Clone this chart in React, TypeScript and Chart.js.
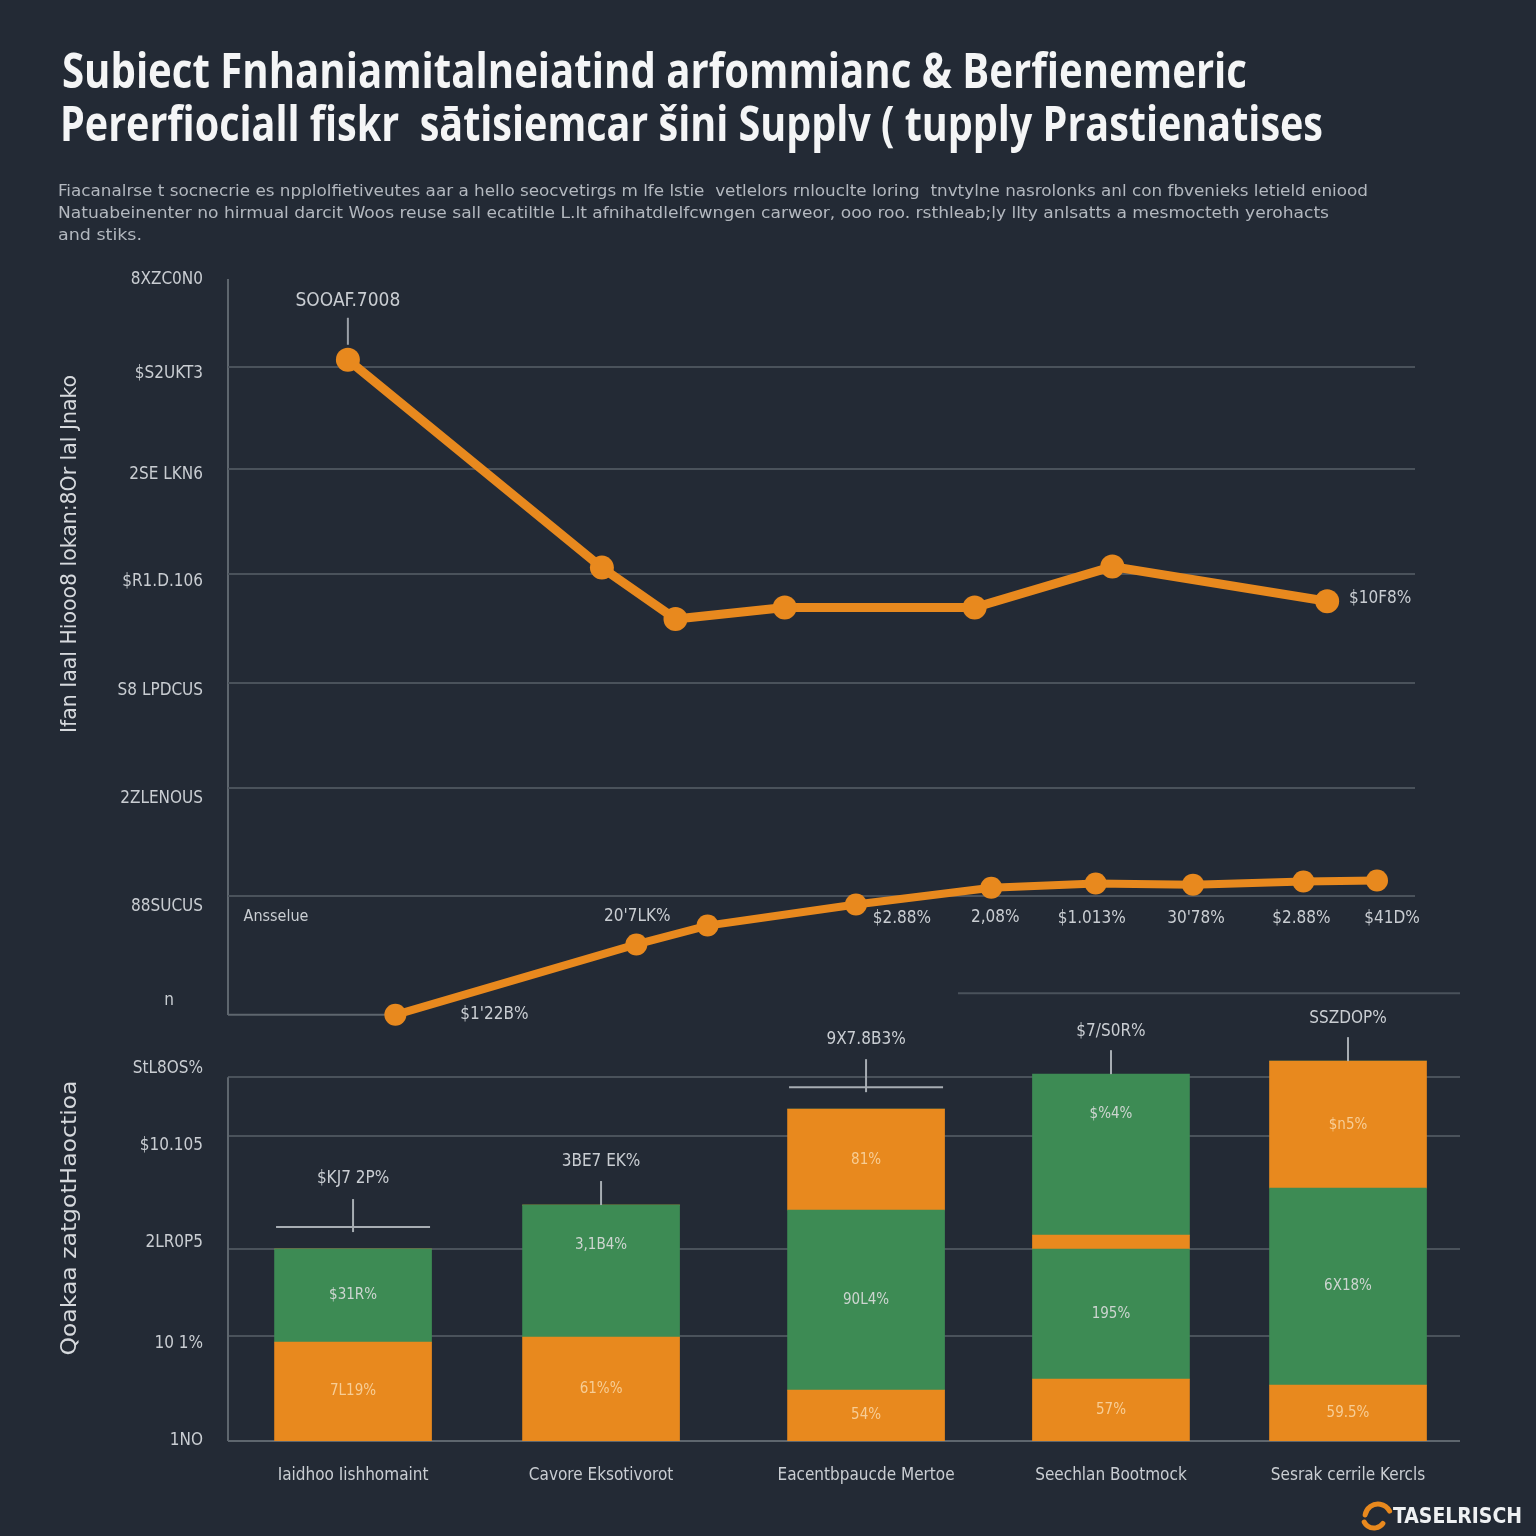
import React, { useEffect, useRef } from "react";
import { Chart, registerables } from "chart.js";

Chart.register(...registerables);

const BG = "#232a35";
const ORANGE = "#e8891e";
const GREEN = "#3d8b54";
const GRID = "#4a525b";
const AXIS = "#5e666e";
const TEXT = "#c9cdd2";
const FONT = "'DejaVu Sans Condensed','Liberation Sans Narrow','DejaVu Sans',sans-serif";
const TITLE_FONT = "'Open Sans','Noto Sans',sans-serif";
const BOT_TOP = 966;

// ---------- text ----------
const titleLines = [
  "Subiect Fnhaniamitalneiatind arfommianc & Berfienemeric",
  "Pererfiociall fiskr  sātisiemcar šini Supplv ( tupply Prastienatises",
];
const subtitleLines = [
  "Fiacanalrse t socnecrie es npplolfietiveutes aar a hello seocvetirgs m lfe lstie  vetlelors rnlouclte loring  tnvtylne nasrolonks anl con fbvenieks letield eniood",
  "Natuabeinenter no hirmual darcit Woos reuse sall ecatiltle L.lt afnihatdlelfcwngen carweor, ooo roo. rsthleab;ly llty anlsatts a mesmocteth yerohacts",
  "and stiks.",
];
const topAxisTitle = "Ifan Iaal Hiooo8 lokan:8Or lal Jnako";
const bottomAxisTitle = "Qoakaa zatgotHaoctioa";
const logoText = "TASELRISCH";

// ---------- top line chart data ----------
const lineYTickValues = [0.133, 1.035, 2.061, 3.086, 4.131, 5.147, 6.106, 7.0];
const lineYTickLabels = ["n      ", "88SUCUS", "2ZLENOUS", "S8 LPDCUS", "$R1.D.106", "2SE LKN6", "$S2UKT3", "8XZC0N0"];
const lineGridValues = [1.13, 2.165, 3.162, 4.198, 5.195, 6.173];
const upperX = [10.1, 31.5, 37.7, 46.9, 62.9, 74.5, 92.6];
const upperY = [6.24, 4.26, 3.77, 3.88, 3.88, 4.27, 3.94];
const lowerX = [14.1, 34.4, 40.4, 52.9, 64.3, 73.1, 81.3, 90.6, 96.8];
const lowerY = [0, 0.67, 0.85, 1.05, 1.21, 1.25, 1.24, 1.27, 1.28];
const upperLabels = ["SOOAF.7008", "", "", "", "", "", "$10F8%"];
const lowerLabels = ["$1'22B%", "20'7LK%", "", "$2.88%", "2,08%", "$1.013%", "30'78%", "$2.88%", "$41D%"];
const baselineLabel = "Ansselue";

// layout of the value labels around points (dx, dy in px)
const upperLabelOffsets = [[0, -59], [0, 0], [0, 0], [0, 0], [0, 0], [0, 0], [53, -3]];
const lowerLabelOffsets = [[99, 0], [1, -28], [0, 0], [46, 14], [4, 30], [-4, 35], [3, 34], [-2, 37], [15, 38]];

// ---------- bottom stacked bar data ----------
const categories = [
  "Iaidhoo Iishhomaint",
  "Cavore Eksotivorot",
  "Eacentbpaucde Mertoe",
  "Seechlan Bootmock",
  "Sesrak cerrile Kercls",
];
const barX = [10.15, 30.28, 51.79, 71.67, 90.91];
const orangeLow = [1.088, 1.143, 0.56, 0.681, 0.615];
const greenMid = [1.022, 1.451, 1.978, 1.429, 2.165];
const orangeUp = [0, 0, 1.11, 0.154, 1.396];
const greenUp = [0, 0, 0, 1.769, 0];
const orangeLowLabels = ["7L19%", "61%%", "54%", "57%", "59.5%"];
const greenMidLabels = ["$31R%", "3,1B4%", "90L4%", "195%", "6X18%"];
const orangeUpLabels = ["", "", "81%", "", "$n5%"];
const greenUpLabels = ["", "", "", "$%4%", ""];
const totalLabels = ["$KJ7 2P%", "3BE7 EK%", "9X7.8B3%", "$7/S0R%", "SSZDOP%"];
const totalHasCap = [true, false, true, false, false];
const barYTickValues = [0, 1.066, 2.176, 3.253, 4.099];
const barYTickLabels = ["1NO", "10 1%", "2LR0P5", "$10.105", "StL8OS%"];
const barGridValues = [1.154, 2.11, 3.352, 4.0];
const barTopLineValue = 4.923;
const barTopLineStart = 59.25;

function fitText(ctx: CanvasRenderingContext2D, text: string, x: number, y: number, width: number, font: string, color: string, align: "left" | "center" = "left") {
  ctx.save();
  ctx.font = font;
  ctx.fillStyle = color;
  ctx.textBaseline = "middle";
  const w = ctx.measureText(text).width || 1;
  const s = width / w;
  ctx.translate(x, y);
  ctx.scale(s, 1);
  ctx.textAlign = align;
  ctx.fillText(text, 0, 0);
  ctx.restore();
}

function label(ctx: CanvasRenderingContext2D, text: string, x: number, y: number, size: number, color: string, align: CanvasTextAlign = "center") {
  ctx.save();
  ctx.font = `${size}px ${FONT}`;
  ctx.fillStyle = color;
  ctx.textAlign = align;
  ctx.textBaseline = "middle";
  ctx.fillText(text, x, y);
  ctx.restore();
}

function hline(ctx: CanvasRenderingContext2D, x1: number, x2: number, y: number, color: string, w = 2) {
  ctx.save();
  ctx.strokeStyle = color;
  ctx.lineWidth = w;
  ctx.beginPath();
  ctx.moveTo(x1, y);
  ctx.lineTo(x2, y);
  ctx.stroke();
  ctx.restore();
}

function vline(ctx: CanvasRenderingContext2D, x: number, y1: number, y2: number, color: string, w = 2) {
  ctx.save();
  ctx.strokeStyle = color;
  ctx.lineWidth = w;
  ctx.beginPath();
  ctx.moveTo(x, y1);
  ctx.lineTo(x, y2);
  ctx.stroke();
  ctx.restore();
}

const topPlugin = {
  id: "topDecor",
  beforeDatasetsDraw(chart: any) {
    const { ctx, chartArea, scales } = chart;
    const xs = scales.x;
    const ys = scales.y;
    // title
    fitText(ctx, titleLines[0], 62, 74, 1185, `700 48px ${TITLE_FONT}`, "#f4f5f6");
    fitText(ctx, titleLines[1], 60, 127, 1263, `700 48px ${TITLE_FONT}`, "#f4f5f6");
    // subtitle
    fitText(ctx, subtitleLines[0], 58, 192, 1310, `16px ${FONT}`, "#b3b8bf");
    fitText(ctx, subtitleLines[1], 58, 214, 1271, `16px ${FONT}`, "#b3b8bf");
    fitText(ctx, subtitleLines[2], 58, 236, 84, `16px ${FONT}`, "#b3b8bf");
    // y axis title
    ctx.save();
    ctx.translate(70, 554);
    ctx.rotate(-Math.PI / 2);
    fitText(ctx, topAxisTitle, 0, 0, 358, `22px ${FONT}`, "#d6d9dd", "center");
    ctx.restore();
    // grid
    for (const v of lineGridValues) {
      hline(ctx, chartArea.left, chartArea.right, Math.round(ys.getPixelForValue(v)), GRID, 2);
    }
    hline(ctx, chartArea.left, xs.getPixelForValue(lowerX[0]), ys.getPixelForValue(0), AXIS, 2);
    // baseline label
    label(ctx, baselineLabel, chartArea.left + 48, ys.getPixelForValue(lineGridValues[0]) + 21, 16, TEXT);
    // leader for first upper point
    const px = xs.getPixelForValue(upperX[0]);
    const py = ys.getPixelForValue(upperY[0]);
    vline(ctx, px, py - 42, py - 15, "#9aa0a7", 2);
  },
  afterDatasetsDraw(chart: any) {
    const { ctx, scales } = chart;
    const xs = scales.x;
    const ys = scales.y;
    upperLabels.forEach((t, i) => {
      if (!t) return;
      const [dx, dy] = upperLabelOffsets[i];
      label(ctx, t, xs.getPixelForValue(upperX[i]) + dx, ys.getPixelForValue(upperY[i]) + dy, i === 0 ? 19 : 17, TEXT);
    });
    lowerLabels.forEach((t, i) => {
      if (!t) return;
      const [dx, dy] = lowerLabelOffsets[i];
      label(ctx, t, xs.getPixelForValue(lowerX[i]) + dx, ys.getPixelForValue(lowerY[i]) + dy, 17, TEXT);
    });
  },
};

const barSegLabels = [orangeLowLabels, greenMidLabels, orangeUpLabels, greenUpLabels];
const barSegSeries = [orangeLow, greenMid, orangeUp, greenUp];

const bottomPlugin = {
  id: "bottomDecor",
  beforeDatasetsDraw(chart: any) {
    const { ctx, chartArea, scales } = chart;
    const xs = scales.x;
    const ys = scales.y;
    for (const v of barGridValues) {
      hline(ctx, chartArea.left, chartArea.right, Math.round(ys.getPixelForValue(v)), GRID, 2);
    }
    hline(ctx, chartArea.left, chartArea.right, ys.getPixelForValue(0), AXIS, 2);
    vline(ctx, chartArea.left, ys.getPixelForValue(barGridValues[barGridValues.length - 1]), ys.getPixelForValue(0), AXIS, 2);
    hline(ctx, xs.getPixelForValue(barTopLineStart), chartArea.right, ys.getPixelForValue(barTopLineValue), GRID, 2);
    // y axis title
    ctx.save();
    ctx.translate(70, 1218 - BOT_TOP);
    ctx.rotate(-Math.PI / 2);
    fitText(ctx, bottomAxisTitle, 0, 0, 275, `22px ${FONT}`, "#d6d9dd", "center");
    ctx.restore();
    // logo
    const ly = 1517 - BOT_TOP;
    ctx.save();
    ctx.strokeStyle = ORANGE;
    ctx.lineWidth = 5;
    ctx.lineCap = "round";
    ctx.beginPath();
    ctx.arc(1378, ly, 13, Math.PI * 1.05, Math.PI * 1.85);
    ctx.stroke();
    ctx.beginPath();
    ctx.arc(1374, ly, 11, Math.PI * 0.2, Math.PI * 0.85);
    ctx.stroke();
    ctx.restore();
    fitText(ctx, logoText, 1393, ly, 129, `bold 22px ${FONT}`, "#eef0f2");
  },
  afterDatasetsDraw(chart: any) {
    const { ctx, scales } = chart;
    const ys = scales.y;
    barSegLabels.forEach((labels, d) => {
      const meta = chart.getDatasetMeta(d);
      labels.forEach((t, i) => {
        if (!t) return;
        const el = meta.data[i];
        const top = Math.min(el.y, el.base);
        const bottom = Math.max(el.y, el.base);
        const isGreen = d % 2 === 1;
        let isTop = true;
        for (let k = d + 1; k < barSegSeries.length; k++) if (barSegSeries[k][i] > 0) isTop = false;
        let y = (top + bottom) / 2;
        if (isGreen && isTop && bottom - top > 120) y = top + 40;
        label(ctx, t, el.x, y, 15, isGreen ? "#cdd5d0" : "#f7cd95");
      });
    });
    const meta0 = chart.getDatasetMeta(0);
    totalLabels.forEach((t, i) => {
      const total = orangeLow[i] + greenMid[i] + orangeUp[i] + greenUp[i];
      const top = ys.getPixelForValue(total);
      const x = meta0.data[i].x;
      if (totalHasCap[i]) {
        const capY = top - 22;
        hline(ctx, x - 77, x + 77, capY, "#a7adb3", 2);
        vline(ctx, x, capY - 28, capY + 5, "#a7adb3", 2);
        label(ctx, t, x, capY - 48, 17, TEXT);
      } else {
        vline(ctx, x, top - 24, top, "#a7adb3", 2);
        label(ctx, t, x, top - 43, 17, TEXT);
      }
    });
  },
};

function topConfig(): any {
  return {
    type: "line",
    data: {
      datasets: [
        {
          label: "upper",
          data: upperX.map((x, i) => ({ x, y: upperY[i] })),
          borderColor: ORANGE,
          backgroundColor: ORANGE,
          borderWidth: 9,
          pointRadius: 12,
          pointBackgroundColor: ORANGE,
          pointBorderWidth: 0,
          tension: 0,
          clip: false,
        },
        {
          label: "lower",
          data: lowerX.map((x, i) => ({ x, y: lowerY[i] })),
          borderColor: ORANGE,
          backgroundColor: ORANGE,
          borderWidth: 8,
          pointRadius: 11,
          pointBackgroundColor: ORANGE,
          pointBorderWidth: 0,
          tension: 0,
          clip: false,
        },
      ],
    },
    options: {
      responsive: false,
      animation: false,
      devicePixelRatio: 1,
      events: [],
      layout: { padding: { left: 0, right: 121, top: 280, bottom: 33 } },
      plugins: { legend: { display: false }, tooltip: { enabled: false } },
      scales: {
        x: { type: "linear", min: 0, max: 100, display: false },
        y: {
          type: "linear",
          min: 0,
          max: 7,
          afterFit: (s: any) => {
            s.width = 228;
          },
          afterBuildTicks: (s: any) => {
            s.ticks = lineYTickValues.map((v) => ({ value: v }));
          },
          grid: { display: false, drawTicks: false },
          border: { display: true, color: AXIS, width: 2 },
          ticks: {
            autoSkip: false,
            padding: 25,
            color: TEXT,
            font: { family: FONT, size: 17 },
            callback: (_v: any, i: number) => lineYTickLabels[i],
          },
        },
      },
    },
    plugins: [topPlugin],
  };
}

function bottomConfig(): any {
  const mk = (label: string, vals: number[], color: string) => ({
    label,
    data: barX.map((x, i) => ({ x, y: vals[i] })),
    backgroundColor: color,
    borderWidth: 0,
    barThickness: 157,
  });
  return {
    type: "bar",
    data: {
      datasets: [
        mk("orangeLow", orangeLow, ORANGE),
        mk("greenMid", greenMid, GREEN),
        mk("orangeUp", orangeUp, ORANGE),
        mk("greenUp", greenUp, GREEN),
      ],
    },
    options: {
      responsive: false,
      animation: false,
      devicePixelRatio: 1,
      events: [],
      layout: { padding: { left: 0, right: 76, top: 35, bottom: 0 } },
      plugins: { legend: { display: false }, tooltip: { enabled: false } },
      scales: {
        x: {
          type: "linear",
          min: 0,
          max: 100,
          offset: false,
          stacked: true,
          afterFit: (s: any) => {
            s.height = 95;
          },
          afterBuildTicks: (s: any) => {
            s.ticks = barX.map((v) => ({ value: v }));
          },
          grid: { display: false, drawTicks: false, offset: false },
          border: { display: false },
          ticks: {
            autoSkip: false,
            maxRotation: 0,
            padding: 24,
            color: TEXT,
            font: { family: FONT, size: 17 },
            callback: (_v: any, i: number) => categories[i],
          },
        },
        y: {
          type: "linear",
          min: 0,
          max: 4.835,
          stacked: true,
          afterFit: (s: any) => {
            s.width = 228;
          },
          afterBuildTicks: (s: any) => {
            s.ticks = barYTickValues.map((v) => ({ value: v }));
          },
          grid: { display: false, drawTicks: false },
          border: { display: false },
          ticks: {
            autoSkip: false,
            padding: 25,
            color: TEXT,
            font: { family: FONT, size: 17 },
            callback: (_v: any, i: number) => barYTickLabels[i],
          },
        },
      },
    },
    plugins: [bottomPlugin],
  };
}

export default function App() {
  const topRef = useRef<HTMLCanvasElement>(null);
  const botRef = useRef<HTMLCanvasElement>(null);
  useEffect(() => {
    const c1 = new Chart(topRef.current as HTMLCanvasElement, topConfig());
    const c2 = new Chart(botRef.current as HTMLCanvasElement, bottomConfig());
    return () => {
      c1.destroy();
      c2.destroy();
    };
  }, []);
  return (
    <div style={{ position: "absolute", left: 0, top: 0, width: 1536, height: 1536, background: BG, overflow: "hidden" }}>
      <canvas ref={topRef} width={1536} height={1050} style={{ position: "absolute", left: 0, top: 0, width: 1536, height: 1050 }} />
      <canvas ref={botRef} width={1536} height={1536 - BOT_TOP} style={{ position: "absolute", left: 0, top: BOT_TOP, width: 1536, height: 1536 - BOT_TOP }} />
    </div>
  );
}
